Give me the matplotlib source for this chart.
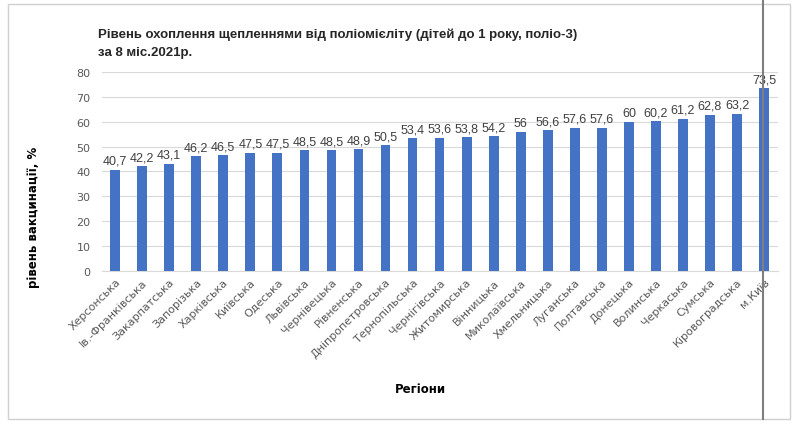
import numpy as np
import matplotlib
matplotlib.use("Agg")
import matplotlib.pyplot as plt
from matplotlib.patches import Rectangle
from matplotlib.lines import Line2D

regions = ["Херсонська", "Ів.-Франківська", "Закарпатська", "Запорізька", "Харківська",
           "Київська", "Одеська", "Львівська", "Чернівецька", "Рівненська",
           "Дніпропетровська", "Тернопільська", "Чернігівська", "Житомирська", "Вінницька",
           "Миколаївська", "Хмельницька", "Луганська", "Полтавська", "Донецька",
           "Волинська", "Черкаська", "Сумська", "Кіровоградська", "м.Київ"]
values = [40.7, 42.2, 43.1, 46.2, 46.5, 47.5, 47.5, 48.5, 48.5, 48.9,
          50.5, 53.4, 53.6, 53.8, 54.2, 56, 56.6, 57.6, 57.6, 60,
          60.2, 61.2, 62.8, 63.2, 73.5]
yticks = [0, 10, 20, 30, 40, 50, 60, 70, 80]

arial = ["Liberation Sans", "DejaVu Sans"]

fig = plt.figure(figsize=(8, 4.35), dpi=100)
ax = fig.add_axes([0.127, 0.375, 0.845, 0.457])

x = np.arange(len(regions))
ax.bar(x, values, width=0.36, color="#4472C4", zorder=3)
for xi, v in zip(x, values):
    ax.text(xi, v + 1.2, f"{v:g}".replace(".", ","), ha="center", va="bottom",
            fontsize=9, color="#404040", family=arial)

ax.set_xlim(-0.5, len(regions) - 0.5)
ax.set_ylim(0, 80)
ax.set_yticks(yticks)
ax.yaxis.grid(True, color="#d9d9d9", linewidth=0.8, zorder=0)
ax.set_xticks(x)
ax.set_xticklabels(regions, rotation=45, ha="right", rotation_mode="anchor",
                   fontsize=8, color="#595959")
ax.tick_params(axis="y", labelsize=8, colors="#595959", length=0, pad=8)
ax.tick_params(axis="x", length=0, pad=4)
for s in ["top", "right", "left"]:
    ax.spines[s].set_visible(False)
ax.spines["bottom"].set_color("#d9d9d9")

fig.text(0.042, 0.50, "рівень вакцинації, %", fontsize=8.5, fontweight="bold",
         rotation=90, ha="center", va="center")
fig.text(0.525, 0.097, "Регіони", fontsize=8.5, fontweight="bold", ha="center")

fig.text(0.123, 0.912, "Рівень охоплення щепленнями від поліомієліту (дітей до 1 року, поліо-3)",
         fontsize=9.5, fontweight="bold", color="#262626", family=arial)
fig.text(0.123, 0.872, "за 8 міс.2021р.", fontsize=9.5, fontweight="bold",
         color="#262626", family=arial)

fig.patches.append(Rectangle((0.01, 0.035), 0.978, 0.953, transform=fig.transFigure,
                             fill=False, edgecolor="#d0d0d0", linewidth=1))
fig.lines.append(Line2D([0.954, 0.954], [0.035, 1.0], transform=fig.transFigure,
                        color="#7f7f7f", linewidth=1.5))

fig.savefig("out.png", dpi=100)
